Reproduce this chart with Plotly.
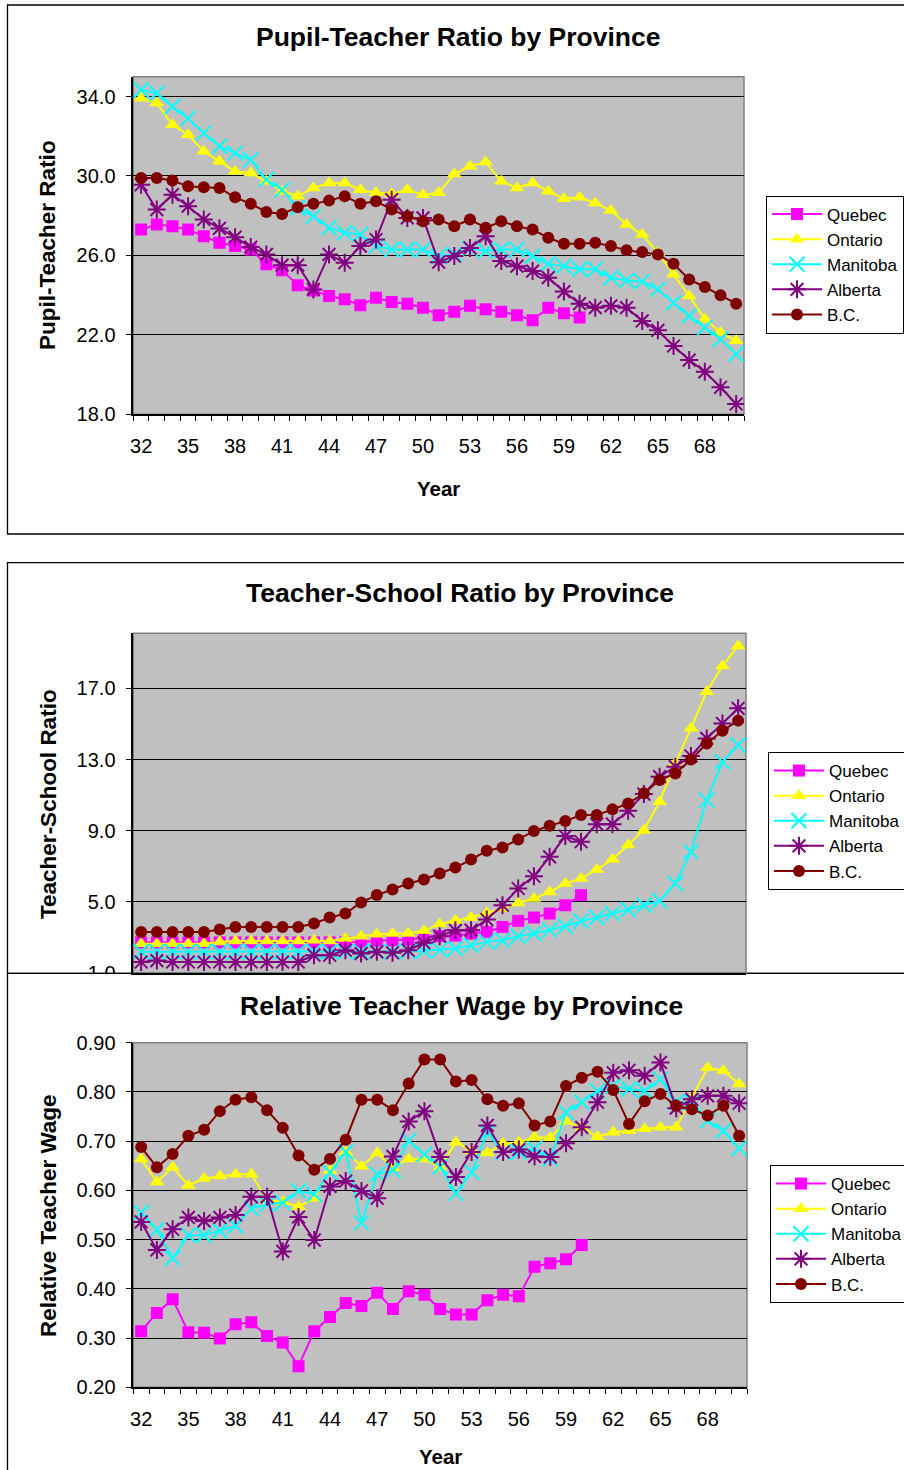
import plotly.graph_objects as go

W, H = 904, 1470
FONT = "Liberation Sans, Arial, sans-serif"

# ---------------- data ----------------
years = list(range(32, 71))            # 1932 .. 1970
x_ticks = list(range(32, 69, 3))       # labelled categories
provinces = ["Quebec", "Ontario", "Manitoba", "Alberta", "B.C."]

# Pupil-Teacher Ratio (Quebec ends 1960)
ptr_quebec = [27.3, 27.56, 27.47, 27.3, 26.97, 26.64, 26.47, 26.3, 25.55, 25.25, 24.5, 24.24, 23.96,
              23.79, 23.49, 23.87, 23.66, 23.57, 23.37, 22.99, 23.17, 23.46, 23.29, 23.17, 22.99, 22.74,
              23.37, 23.09, 22.87]
ptr_ontario = [33.92, 33.67, 32.58, 32.08, 31.24, 30.74, 30.23, 30.15, 29.73, 29.23, 28.98, 29.4, 29.65,
               29.65, 29.31, 29.15, 29.1, 29.31, 29.06, 29.15, 30.1, 30.49, 30.7, 29.73, 29.4, 29.65,
               29.23, 28.86, 28.93, 28.64, 28.26, 27.56, 27.05, 26.13, 25.05, 23.96, 22.79, 22.12, 21.7]
ptr_manitoba = [34.33, 34.17, 33.5, 32.9, 32.16, 31.5, 31.15, 30.82, 29.82, 29.3, 28.4, 27.97, 27.39,
                27.14, 27.05, 26.47, 26.3, 26.3, 26.3, 25.97, 26.05, 26.35, 26.22, 26.3, 26.3, 25.97,
                25.58, 25.46, 25.3, 25.3, 24.88, 24.74, 24.68, 24.29, 23.62, 22.95, 22.37, 21.78, 21.03]
ptr_alberta = [29.56, 28.31, 29.06, 28.48, 27.81, 27.36, 26.92, 26.42, 26.05, 25.51, 25.51, 24.29, 26.05,
               25.63, 26.47, 26.8, 28.81, 27.89, 27.89, 25.66, 25.97, 26.38, 26.97, 25.72, 25.46, 25.21,
               24.88, 24.18, 23.57, 23.37, 23.46, 23.37, 22.7, 22.23, 21.44, 20.73, 20.14, 19.36, 18.52]
ptr_bc = [29.9, 29.9, 29.77, 29.48, 29.43, 29.4, 28.93, 28.6, 28.19, 28.09, 28.43, 28.6, 28.76,
          28.98, 28.6, 28.73, 28.31, 27.97, 27.72, 27.81, 27.47, 27.81, 27.39, 27.72, 27.47, 27.3,
          26.89, 26.59, 26.59, 26.64, 26.47, 26.26, 26.17, 26.05, 25.58, 24.79, 24.41, 24.0, 23.57]

# Teacher-School Ratio
tsr_quebec = [2.72, 2.72, 2.72, 2.72, 2.72, 2.72, 2.72, 2.72, 2.72, 2.72, 2.72, 2.72, 2.72,
              2.72, 2.75, 2.82, 2.84, 2.88, 3.0, 3.07, 3.1, 3.22, 3.31, 3.59, 3.93, 4.12,
              4.34, 4.81, 5.38]
tsr_ontario = [2.65, 2.65, 2.65, 2.65, 2.65, 2.75, 2.8, 2.8, 2.8, 2.8, 2.8, 2.84, 2.8,
               2.94, 3.07, 3.18, 3.22, 3.22, 3.37, 3.76, 3.95, 4.12, 4.38, 4.62, 4.94, 5.19,
               5.56, 6.03, 6.31, 6.82, 7.38, 8.19, 9.03, 10.63, 12.79, 14.76, 16.82, 18.26, 19.39]
tsr_manitoba = [2.2, 2.2, 2.2, 2.2, 2.2, 2.2, 2.2, 2.2, 2.2, 2.2, 2.2, 2.2, 2.2,
                2.2, 2.2, 2.2, 2.2, 2.22, 2.25, 2.3, 2.38, 2.56, 2.75, 2.84, 3.07, 3.22,
                3.41, 3.63, 3.91, 4.12, 4.34, 4.57, 4.81, 5.06, 6.03, 7.81, 10.72, 12.88, 13.82]
tsr_alberta = [1.62, 1.7, 1.62, 1.62, 1.62, 1.62, 1.62, 1.62, 1.62, 1.62, 1.62, 2.0, 2.0,
               2.28, 2.09, 2.19, 2.14, 2.28, 2.7, 3.07, 3.4, 3.41, 4.01, 4.81, 5.75, 6.44,
               7.53, 8.7, 8.38, 9.37, 9.37, 10.12, 11.06, 12.04, 12.6, 13.2, 14.19, 15.03, 15.88]
tsr_bc = [3.3, 3.3, 3.3, 3.3, 3.3, 3.44, 3.59, 3.59, 3.59, 3.59, 3.59, 3.78, 4.12,
          4.34, 4.97, 5.38, 5.69, 6.03, 6.26, 6.59, 6.93, 7.38, 7.87, 8.06, 8.51, 8.98,
          9.28, 9.54, 9.88, 9.88, 10.2, 10.53, 11.1, 11.85, 12.22, 13.0, 13.9, 14.62, 15.19]

# Relative Teacher Wage
rtw_quebec = [0.314, 0.351, 0.379, 0.312, 0.311, 0.299, 0.328, 0.332, 0.304, 0.291, 0.243, 0.314, 0.343,
              0.371, 0.365, 0.392, 0.359, 0.395, 0.388, 0.359, 0.348, 0.348, 0.377, 0.388, 0.385, 0.445,
              0.452, 0.46, 0.489]
rtw_ontario = [0.664, 0.617, 0.647, 0.61, 0.624, 0.629, 0.633, 0.633, 0.58, 0.577, 0.567, 0.584, 0.64,
               0.678, 0.649, 0.676, 0.646, 0.664, 0.664, 0.647, 0.698, 0.68, 0.676, 0.695, 0.698, 0.708,
               0.707, 0.74, 0.727, 0.709, 0.718, 0.721, 0.725, 0.728, 0.728, 0.789, 0.849, 0.843, 0.816]
rtw_manitoba = [0.555, 0.52, 0.462, 0.509, 0.509, 0.518, 0.528, 0.563, 0.572, 0.575, 0.599, 0.592, 0.637,
                0.678, 0.534, 0.633, 0.641, 0.701, 0.673, 0.648, 0.594, 0.637, 0.718, 0.678, 0.678, 0.685,
                0.664, 0.759, 0.779, 0.802, 0.812, 0.806, 0.802, 0.826, 0.779, 0.779, 0.742, 0.721, 0.685]
rtw_alberta = [0.536, 0.479, 0.521, 0.545, 0.538, 0.545, 0.55, 0.587, 0.587, 0.476, 0.546, 0.499, 0.608,
               0.619, 0.599, 0.584, 0.669, 0.74, 0.761, 0.668, 0.627, 0.678, 0.732, 0.678, 0.683, 0.669,
               0.668, 0.696, 0.728, 0.779, 0.839, 0.844, 0.833, 0.86, 0.767, 0.785, 0.792, 0.792, 0.777]
rtw_bc = [0.688, 0.647, 0.674, 0.711, 0.723, 0.761, 0.784, 0.789, 0.763, 0.727, 0.671, 0.642, 0.664,
          0.703, 0.784, 0.784, 0.763, 0.817, 0.866, 0.866, 0.821, 0.824, 0.785, 0.772, 0.777, 0.732,
          0.74, 0.812, 0.829, 0.841, 0.804, 0.735, 0.781, 0.796, 0.772, 0.765, 0.752, 0.772, 0.711]

ptr_ticks = [18, 22, 26, 30, 34]
tsr_ticks = [1, 5, 9, 13, 17]
rtw_ticks = [0.2, 0.3, 0.4, 0.5, 0.6, 0.7, 0.8, 0.9]

# ---------------- styling ----------------
colors = {"Quebec": "#FF00FF", "Ontario": "#FFFF00", "Manitoba": "#00FFFF",
          "Alberta": "#800080", "B.C.": "#800000"}
symbols = {"Quebec": "square", "Ontario": "triangle-up", "Manitoba": "x-thin-open",
           "Alberta": "asterisk-open", "B.C.": "circle"}
msize = {"Quebec": 12, "Ontario": 13, "Manitoba": 15, "Alberta": 15, "B.C.": 12}


def fx(p):
    return p / W


def fy(p):
    return 1 - p / H


fig = go.Figure()

charts = [
    ("x", "y", "legend", [ptr_quebec, ptr_ontario, ptr_manitoba, ptr_alberta, ptr_bc]),
    ("x2", "y2", "legend2", [tsr_quebec, tsr_ontario, tsr_manitoba, tsr_alberta, tsr_bc]),
    ("x3", "y3", "legend3", [rtw_quebec, rtw_ontario, rtw_manitoba, rtw_alberta, rtw_bc]),
]

for xa, ya, lg, series in charts:
    for name, vals in zip(provinces, series):
        sym = symbols[name]
        open_sym = sym.endswith("open")
        fig.add_trace(go.Scatter(
            x=years[:len(vals)], y=vals, name=name, mode="lines+markers",
            xaxis=xa, yaxis=ya, legend=lg,
            line=dict(color=colors[name], width=2),
            marker=dict(symbol=sym, size=msize[name], color=colors[name],
                        line=dict(color=colors[name], width=2 if open_sym else 0)),
            hoverinfo="skip",
        ))

tickfont = dict(family=FONT, size=20, color="black")


def make_x(domain, anchor, labels=True):
    return dict(domain=domain, anchor=anchor, range=[31.5, 70.5], automargin=False,
                tickmode="array", tickvals=x_ticks, ticktext=[str(v) for v in x_ticks],
                ticks="", showticklabels=labels, showgrid=False, zeroline=False,
                showline=True, linecolor="black", linewidth=1.5,
                tickfont=tickfont, ticklabelstandoff=13,
                minor=dict(tickmode="array", tickvals=[31.5 + i for i in range(40)],
                           ticks="outside" if labels else "", ticklen=5,
                           tickcolor="black", tickwidth=1, showgrid=False))


def make_y(domain, anchor, rng, tv, fmt):
    return dict(domain=domain, anchor=anchor, range=rng, automargin=False,
                tickmode="array", tickvals=tv, ticktext=[fmt.format(v) for v in tv],
                ticks="outside", ticklen=6, tickcolor="black", tickwidth=1,
                showgrid=True, gridcolor="black", gridwidth=1, zeroline=False,
                showline=True, linecolor="black", linewidth=1.5,
                tickfont=tickfont, ticklabelstandoff=6)


fig.update_layout(
    template="none",
    width=W, height=H, autosize=False,
    margin=dict(l=0, r=0, t=0, b=0, pad=0, autoexpand=False),
    paper_bgcolor="white", plot_bgcolor="#C0C0C0",
    font=dict(family=FONT, color="black"),
    showlegend=True,
    xaxis=make_x([fx(133.3), fx(744)], "y"),
    yaxis=make_y([fy(414.3), fy(76.7)], "x", [18, 35], ptr_ticks, "{:.1f}"),
    xaxis2=make_x([fx(133.3), fx(746)], "y2", labels=False),
    yaxis2=make_y([fy(973), fy(633.3)], "x2", [1, 20.1], tsr_ticks, "{:.1f}"),
    xaxis3=make_x([fx(133.3), fx(747)], "y3"),
    yaxis3=make_y([fy(1387.3), fy(1042.7)], "x3", [0.2, 0.9], rtw_ticks, "{:.2f}"),
)

leg_common = dict(xanchor="left", yanchor="top", bgcolor="white", bordercolor="black",
                  borderwidth=1, font=dict(family=FONT, size=17, color="black"),
                  tracegroupgap=0, itemwidth=50)
fig.update_layout(
    legend=dict(x=fx(766), y=fy(195.5), **leg_common),
    legend2=dict(x=fx(768), y=fy(752), **leg_common),
    legend3=dict(x=fx(770), y=fy(1165), **leg_common),
)

shapes = []
# chart boxes
for y0, y1 in [(5, 534), (562.7, 973.3), (973.3, 1490)]:
    shapes.append(dict(type="rect", xref="paper", yref="paper", x0=fx(7.5), x1=fx(920),
                       y0=fy(y1), y1=fy(y0), line=dict(color="black", width=1.3),
                       fillcolor="rgba(0,0,0,0)", layer="below"))
# plot-area borders
for xa, ya in [("x", "y"), ("x2", "y2"), ("x3", "y3")]:
    shapes.append(dict(type="rect", xref=f"{xa} domain", yref=f"{ya} domain", x0=0, x1=1, y0=0, y1=1,
                       line=dict(color="#808080", width=1.5), layer="below"))
# third chart's box hides the lower half of the middle chart's "1.0" label
shapes.append(dict(type="rect", xref="paper", yref="paper", x0=fx(40), x1=fx(128),
                   y0=fy(995), y1=fy(974.3), fillcolor="white", line=dict(width=0), layer="above"))
fig.update_layout(shapes=shapes)

ann = []
title_font = dict(family=FONT, size=26.5, color="black")
axis_font = dict(family=FONT, size=22.5, color="black")
for text, x, y in [("<b>Pupil-Teacher Ratio by Province</b>", 458, 37.5),
                   ("<b>Teacher-School Ratio by Province</b>", 460, 593),
                   ("<b>Relative Teacher Wage by Province</b>", 461, 1006)]:
    ann.append(dict(text=text, x=fx(x), y=fy(y), xref="paper", yref="paper",
                    xanchor="center", yanchor="middle", showarrow=False, font=title_font))
for text, y in [("<b>Pupil-Teacher Ratio</b>", 245),
                ("<b>Teacher-School Ratio</b>", 804),
                ("<b>Relative Teacher Wage</b>", 1216)]:
    ann.append(dict(text=text, x=fx(48), y=fy(y), xref="paper", yref="paper", textangle=-90,
                    xanchor="center", yanchor="middle", showarrow=False, font=axis_font))
year_font = dict(family=FONT, size=20.5, color="black")
ann.append(dict(text="<b>Year</b>", x=fx(438), y=fy(488), xref="paper", yref="paper",
                xanchor="center", yanchor="middle", showarrow=False, font=year_font))
ann.append(dict(text="<b>Year</b>", x=fx(440), y=0, xref="paper", yref="paper",
                xanchor="center", yanchor="bottom", showarrow=False, font=year_font))
fig.update_layout(annotations=ann)

fig.write_html("out.html", config={"displayModeBar": False},
               post_script="document.body.style.margin='0px';")
